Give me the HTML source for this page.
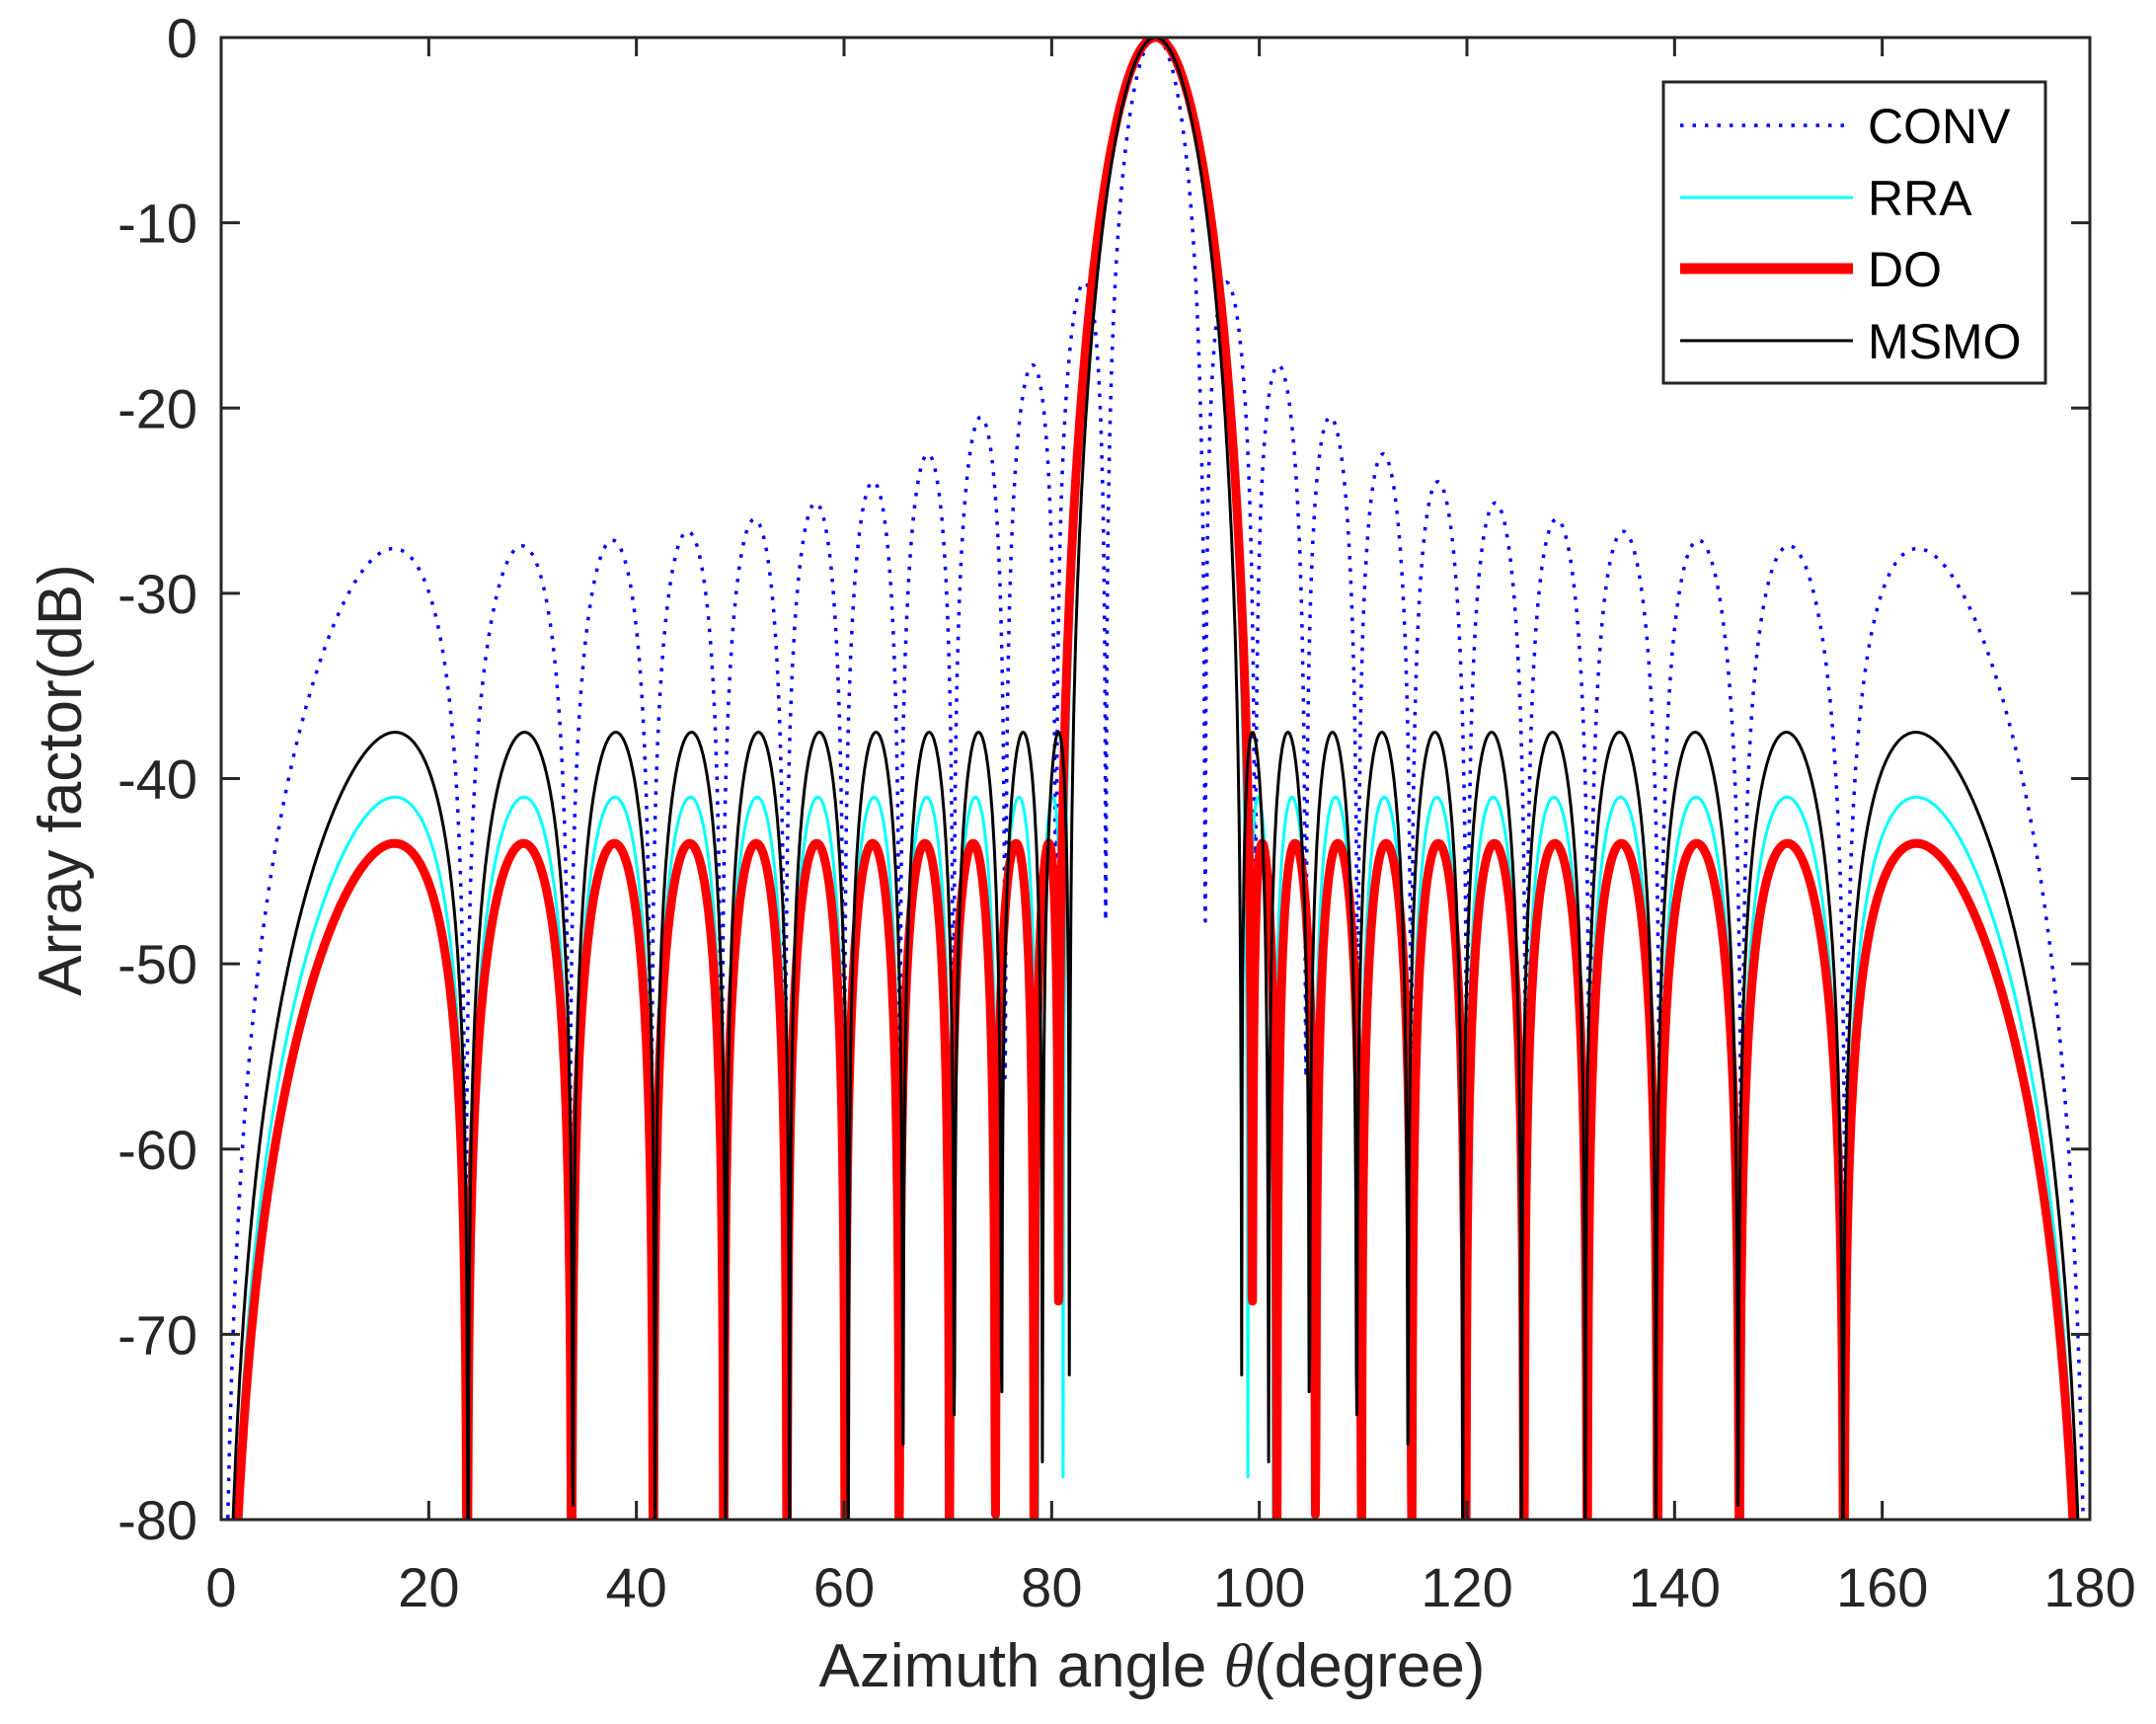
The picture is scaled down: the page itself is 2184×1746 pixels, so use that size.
<!DOCTYPE html>
<html><head><meta charset="utf-8"><style>
html,body{margin:0;padding:0;background:#fff;}
svg{display:block;font-family:"Liberation Sans",Arial,sans-serif;}
</style></head><body>
<svg id="s" width="2184" height="1746" viewBox="0 0 2184 1746" xmlns="http://www.w3.org/2000/svg">
<defs><clipPath id="c"><rect x="224" y="38" width="1893" height="1501"/></clipPath></defs>
<rect width="2184" height="1746" fill="#fff"/>
<g id="curves" clip-path="url(#c)"></g>
<g id="axes" stroke="#262626" stroke-width="3" fill="none"></g>
<g id="labels" fill="#262626" font-size="56"></g>
<text x="1167" y="1708" font-size="62" text-anchor="middle" fill="#262626">Azimuth angle <tspan font-family="Liberation Serif, serif" font-style="italic">θ</tspan>(degree)</text>
<text transform="translate(82,790) rotate(-90)" font-size="62" text-anchor="middle" fill="#262626">Array factor(dB)</text>
<g>
<rect x="1685" y="83" width="387" height="305" fill="#fff" stroke="#262626" stroke-width="3"/>
<line x1="1702" y1="127" x2="1877" y2="127" stroke="#0000ff" stroke-width="3.5" stroke-dasharray="3.5 9"/>
<line x1="1702" y1="200" x2="1877" y2="200" stroke="#00ffff" stroke-width="3"/>
<line x1="1702" y1="272" x2="1877" y2="272" stroke="#ff0000" stroke-width="11"/>
<line x1="1702" y1="345" x2="1877" y2="345" stroke="#000" stroke-width="3"/>
<g font-size="50" fill="#000">
<text x="1892" y="145">CONV</text>
<text x="1892" y="218">RRA</text>
<text x="1892" y="290">DO</text>
<text x="1892" y="363">MSMO</text>
</g>
</g>
</svg>
<script>
(function(){
var NS="http://www.w3.org/2000/svg";
var L=224,R=2117,T=38,B=1539;
function X(d){return L+(R-L)*d/180;}
function Y(db){return T+(B-T)*(-db)/80;}
var N=24;
function conv(th){var psi=Math.PI*Math.cos(th*Math.PI/180);var s=Math.sin(psi/2);
 var v; if(Math.abs(s)<1e-9)v=1; else v=Math.sin(N*psi/2)/(N*s); return 20*Math.log10(Math.abs(v)+1e-12);}
function cheb(sl){var Rr=Math.pow(10,sl/20);var m=N-1;var x0=Math.cosh(Math.acosh(Rr)/m);
 return function(th){var psi=Math.PI*Math.cos(th*Math.PI/180);var x=x0*Math.cos(psi/2);var t;
  if(Math.abs(x)<=1)t=Math.cos(m*Math.acos(x));else{t=Math.cosh(m*Math.acosh(Math.abs(x)));if(x<0&&m%2==1)t=-t;}
  return 20*Math.log10(Math.abs(t)/Rr+1e-12);};}
function path(f){var d="";for(var i=0;i<=3600;i++){var th=i*0.05;var v=f(th);if(v<-85)v=-85;
 d+=(i?"L":"M")+X(th).toFixed(1)+" "+Y(v).toFixed(1);}return d;}
var g=document.getElementById("curves");
function add(f,col,w,dash){var p=document.createElementNS(NS,"path");p.setAttribute("d",path(f));
 p.setAttribute("fill","none");p.setAttribute("stroke",col);p.setAttribute("stroke-width",w);
 p.setAttribute("stroke-linejoin","round");if(dash)p.setAttribute("stroke-dasharray",dash);g.appendChild(p);}
add(conv,"#0000ff",3.5,"3.5 9");
add(cheb(41),"#00ffff",3);
add(cheb(43.5),"#ff0000",9);
add(cheb(37.5),"#000000",3);
var a=document.getElementById("axes");
function ln(x1,y1,x2,y2){var l=document.createElementNS(NS,"line");l.setAttribute("x1",x1);l.setAttribute("y1",y1);l.setAttribute("x2",x2);l.setAttribute("y2",y2);a.appendChild(l);}
var r=document.createElementNS(NS,"rect");r.setAttribute("x",L);r.setAttribute("y",T);r.setAttribute("width",R-L);r.setAttribute("height",B-T);a.appendChild(r);
var lb=document.getElementById("labels");
function tx(x,y,s,anc){var t=document.createElementNS(NS,"text");t.setAttribute("x",x);t.setAttribute("y",y);t.setAttribute("text-anchor",anc);t.textContent=s;lb.appendChild(t);}
for(var k=0;k<=9;k++){var x=X(k*20);ln(x,B,x,B-19);ln(x,T,x,T+19);tx(x,1627,String(k*20),"middle");}
for(var j=0;j<=8;j++){var y=Y(-j*10);ln(L,y,L+19,y);ln(R,y,R-19,y);tx(200,y+20,j?("-"+j*10):"0","end");}
})();
</script>
</body></html>
